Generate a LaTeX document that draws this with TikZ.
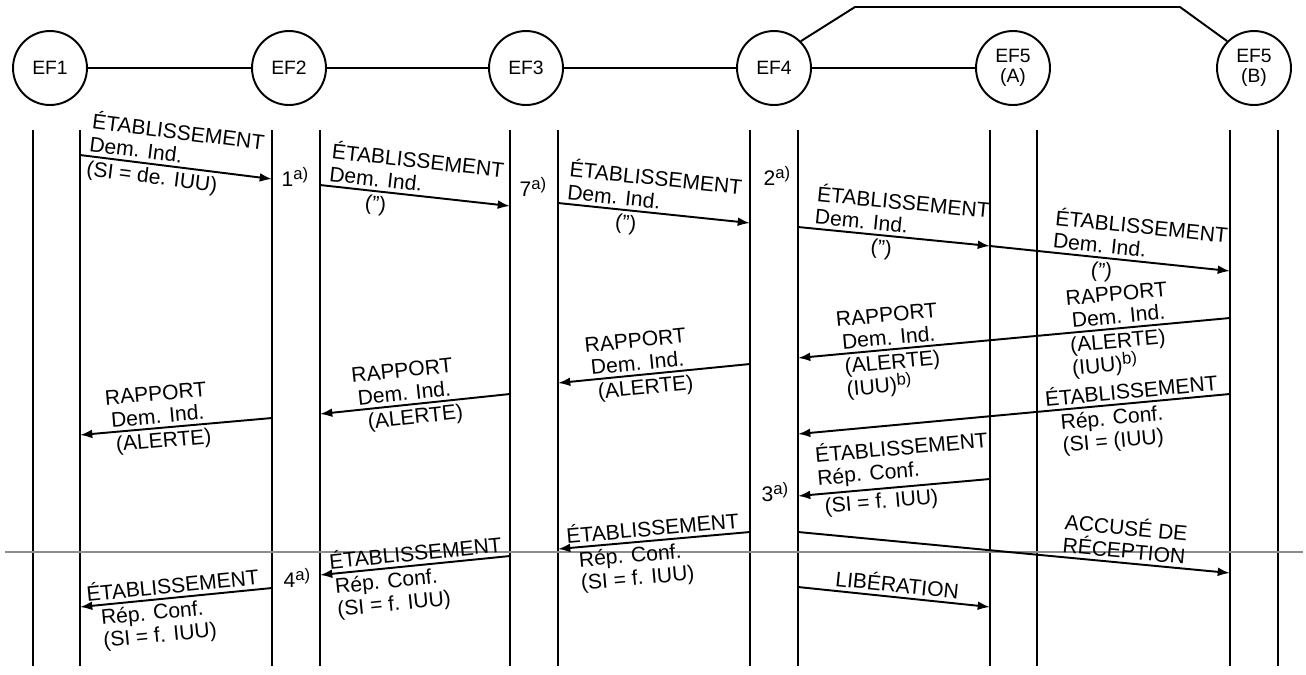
\documentclass[tikz,border=0pt]{standalone}
\usepackage{fontspec}
\setmainfont{Liberation Sans}
\usetikzlibrary{arrows.meta,positioning}
\newcommand{\upnote}[1]{\raisebox{0.55ex}{\fontsize{9.5}{9.5}\selectfont #1}}

\begin{document}
\begin{tikzpicture}[
  x=0.02cm, y=-0.02cm,
  every node/.style={font=\fontsize{12}{13}\selectfont},
  entity/.style={draw, circle, line width=1.1pt, minimum size=1.48cm, inner sep=0pt, align=center, font=\fontsize{11}{11.5}\selectfont},
  link/.style={line width=1.1pt},
  lifeline/.style={line width=1.1pt},
  msg/.style={-{Latex[length=7pt,width=5pt]}, line width=1.1pt},
  lbl/.style={sloped, align=left, inner sep=2pt},
  refmark/.style={inner sep=0pt},
  scanline/.style={black!45, line width=0.7pt}
]
\useasboundingbox (0,0) rectangle (1306,674);

% functional entities
\node[entity] (ef1) at (50,68) {EF1};
\node[entity] (ef2) at (289,68) {EF2};
\node[entity] (ef3) at (526,68) {EF3};
\node[entity] (ef4) at (774,68) {EF4};
\node[entity] (ef5a) at (1013,68) {EF5\\(A)};
\node[entity] (ef5b) at (1254,68) {EF5\\(B)};
\coordinate (tl) at (855,7);
\coordinate (tr) at (1180,7);
\draw[link] (ef1) -- (ef2);
\draw[link] (ef2) -- (ef3);
\draw[link] (ef3) -- (ef4);
\draw[link] (ef4) -- (ef5a);
\draw[link] (ef4.north east) -- (tl) -- (tr) -- (ef5b.north west);

% lifelines
\foreach \lx in {33,80,272,320,510,558,750,798,990,1037,1230,1278}
  \draw[lifeline] (\lx,130) -- (\lx,666);

\draw[scanline] (5,552) -- (1303,552);

% set-up forward
\coordinate (a1) at (80,155);   \coordinate (b1) at (272,179);
\coordinate (a2) at (320,185);  \coordinate (b2) at (510,206);
\coordinate (a3) at (558,203);  \coordinate (b3) at (750,223);
\coordinate (a4) at (798,227);  \coordinate (b4) at (990,246);
\coordinate (b5) at (1230,271);
\draw[msg] (a1) -- (b1)
  node[lbl, pos=0.02, anchor=south west] (t1) {ÉTABLISSEMENT\\Dem. Ind.}
  node[lbl, pos=0.02, anchor=north west] (u1) {(SI = de. IUU)};
\draw[msg] (a2) -- (b2)
  node[lbl, pos=0.02, anchor=south west] (t2) {ÉTABLISSEMENT\\Dem. Ind.}
  node[lbl, pos=0.3, anchor=north] (u2) {(”)};
\draw[msg] (a3) -- (b3)
  node[lbl, pos=0.02, anchor=south west] (t3) {ÉTABLISSEMENT\\Dem. Ind.}
  node[lbl, pos=0.36, anchor=north] (u3) {(”)};
\draw[msg] (a4) -- (b4)
  node[lbl, pos=0.06, anchor=south west] (t4) {ÉTABLISSEMENT\\Dem. Ind.}
  node[lbl, pos=0.44, anchor=north] (u4) {(”)};
\draw[msg] (b4) -- (b5)
  node[lbl, pos=0.24, anchor=south west] (t5) {ÉTABLISSEMENT\\Dem. Ind.}
  node[lbl, pos=0.47, anchor=north] (u5) {(”)};
\node[refmark] (n1) at (295,177) {1\upnote{a)}};
\node[refmark] (n7) at (533,187) {7\upnote{a)}};
\node[refmark] (n2) at (777,176) {2\upnote{a)}};

% reports back
\coordinate (a6) at (1230,318); \coordinate (b6) at (798,358);
\coordinate (a7) at (750,364);  \coordinate (b7) at (558,383);
\coordinate (a8) at (510,394);  \coordinate (b8) at (320,414);
\coordinate (a9) at (272,418);  \coordinate (b9) at (80,435);
\draw[msg] (a6) -- (b6)
  node[lbl, align=center, pos=0.383, anchor=south west] (t6) {RAPPORT\\Dem. Ind.}
  node[lbl, pos=0.383, anchor=north west] (u6) {(ALERTE)\\(IUU)\upnote{b)}}
  node[lbl, align=center, pos=0.915, anchor=south west] (t6b) {RAPPORT\\Dem. Ind.}
  node[lbl, pos=0.905, anchor=north west] (u6b) {(ALERTE)\\(IUU)\upnote{b)}};
\draw[msg] (a7) -- (b7)
  node[lbl, align=center, pos=0.58, anchor=south] (t7) {RAPPORT\\Dem. Ind.}
  node[lbl, pos=0.55, anchor=north] (u7) {(ALERTE)};
\draw[msg] (a8) -- (b8)
  node[lbl, align=center, pos=0.55, anchor=south] (t8) {RAPPORT\\Dem. Ind.}
  node[lbl, pos=0.505, anchor=north] (u8) {(ALERTE)};
\draw[msg] (a9) -- (b9)
  node[lbl, align=center, pos=0.59, anchor=south] (t9) {RAPPORT\\Dem. Ind.}
  node[lbl, pos=0.57, anchor=north] (u9) {(ALERTE)};

% confirmation back
\coordinate (a10) at (1230,394); \coordinate (b10) at (798,434);
\coordinate (a11) at (990,479);  \coordinate (b11) at (798,496);
\coordinate (a12) at (750,532);  \coordinate (b12) at (558,549);
\coordinate (a15) at (510,556);  \coordinate (b15) at (320,575);
\coordinate (a16) at (272,588);  \coordinate (b16) at (80,607);
\draw[msg] (a10) -- (b10)
  node[lbl, pos=0.016, anchor=south east] (t10) {ÉTABLISSEMENT}
  node[lbl, pos=0.405, anchor=north west] (u10) {Rép. Conf.\\(SI = (IUU)};
\draw[msg] (a11) -- (b11)
  node[lbl, pos=0.915, anchor=south west] (t11) {ÉTABLISSEMENT\\Rép. Conf.}
  node[lbl, pos=0.89, anchor=north west] (u11) {(SI = f. IUU)};
\draw[msg] (a12) -- (b12)
  node[lbl, pos=0.03, anchor=south east] (t12) {ÉTABLISSEMENT}
  node[lbl, pos=0.92, anchor=north west] (u12) {Rép. Conf.\\(SI = f. IUU)};
\draw[msg] (a15) -- (b15)
  node[lbl, pos=0.015, anchor=south east] (t15) {ÉTABLISSEMENT}
  node[lbl, pos=0.95, anchor=north west] (u15) {Rép. Conf.\\(SI = f. IUU)};
\draw[msg] (a16) -- (b16)
  node[lbl, pos=0.04, anchor=south east] (t16) {ÉTABLISSEMENT}
  node[lbl, pos=0.92, anchor=north west] (u16) {Rép. Conf.\\(SI = f. IUU)};
\node[refmark] (n3) at (775,492) {3\upnote{a)}};
\node[refmark] (n4) at (297,578) {4\upnote{a)}};

% acknowledgement and release
\coordinate (a13) at (798,532); \coordinate (b13) at (1230,573);
\coordinate (a14) at (798,587); \coordinate (b14) at (990,607);
\draw[msg] (a13) -- (b13)
  node[lbl, pos=0.6, anchor=south west] (t13) {ACCUSÉ DE\\RÉCEPTION};
\draw[msg] (a14) -- (b14)
  node[lbl, pos=0.51, anchor=south] (t14) {LIBÉRATION};
\end{tikzpicture}
\end{document}
